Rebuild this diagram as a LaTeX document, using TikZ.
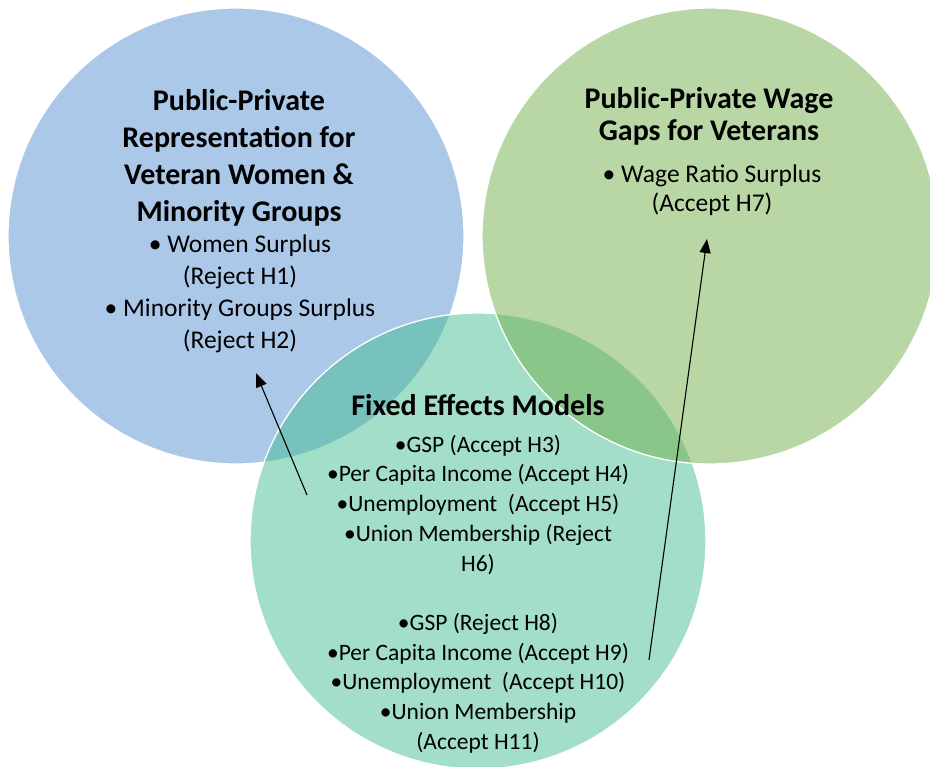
\documentclass[tikz,border=0pt]{standalone}
\usepackage{fontspec}
\setmainfont{Carlito}
\usepackage{xcolor}
\usetikzlibrary{arrows.meta, positioning}

\definecolor{setblue}{RGB}{89,145,209}
\definecolor{setteal}{RGB}{69,189,145}
\definecolor{setgreen}{RGB}{115,173,75}

\begin{document}
\begin{tikzpicture}[
    x=1pt, y=-1pt,
    set/.style={circle, draw=white, line width=1.3pt, fill opacity=0.5, minimum size=456pt, inner sep=0pt},
    head/.style={align=center, font=\bfseries\fontsize{30}{37}\selectfont},
    item/.style={align=center, font=\fontsize{25.5}{32}\selectfont},
    line/.style={draw, line width=1.1pt, -{Triangle[length=14pt, width=11pt]}}
]
    \useasboundingbox (0,0) rectangle (930,767);

    % Sets
    \node [set, fill=setblue] (wom) at (236,236) {};
    \node [set, fill=setteal] (fem) at (478,541) {};
    \node [set, fill=setgreen] (wage) at (710,236) {};

    % Texts
    \node [head] (womhead) at (239,158) {Public-Private\\Representation for\\Veteran Women \&\\Minority Groups};
    \node [item] (womitem) at (240,294) {• Women Surplus\\(Reject H1)\\• Minority Groups Surplus\\(Reject H2)};

    \node [head, font=\bfseries\fontsize{30}{32}\selectfont] (wagehead) at (709,116) {Public-Private Wage\\Gaps for Veterans};
    \node [item, font=\fontsize{25.5}{29}\selectfont] (wageitem) at (712,190) {• Wage Ratio Surplus\\(Accept H7)};

    \node [head] (femhead) at (478,405) {Fixed Effects Models};
    \node [item, font=\fontsize{23.5}{29.7}\selectfont] (femitem) at (478,594) {•GSP (Accept H3)\\•Per Capita Income (Accept H4)\\•Unemployment~ (Accept H5)\\•Union Membership (Reject\\H6)\\[29.7pt]•GSP (Reject H8)\\•Per Capita Income (Accept H9)\\•Unemployment~ (Accept H10)\\•Union Membership\\(Accept H11)};

    % Paths
    \coordinate (womtail) at (307,495);
    \coordinate (womtip) at (256,373);
    \coordinate (wagetail) at (649,660);
    \coordinate (wagetip) at (707,239);
    \path [line] (womtail) -- (womtip);
    \path [line] (wagetail) -- (wagetip);

\end{tikzpicture}
\end{document}
